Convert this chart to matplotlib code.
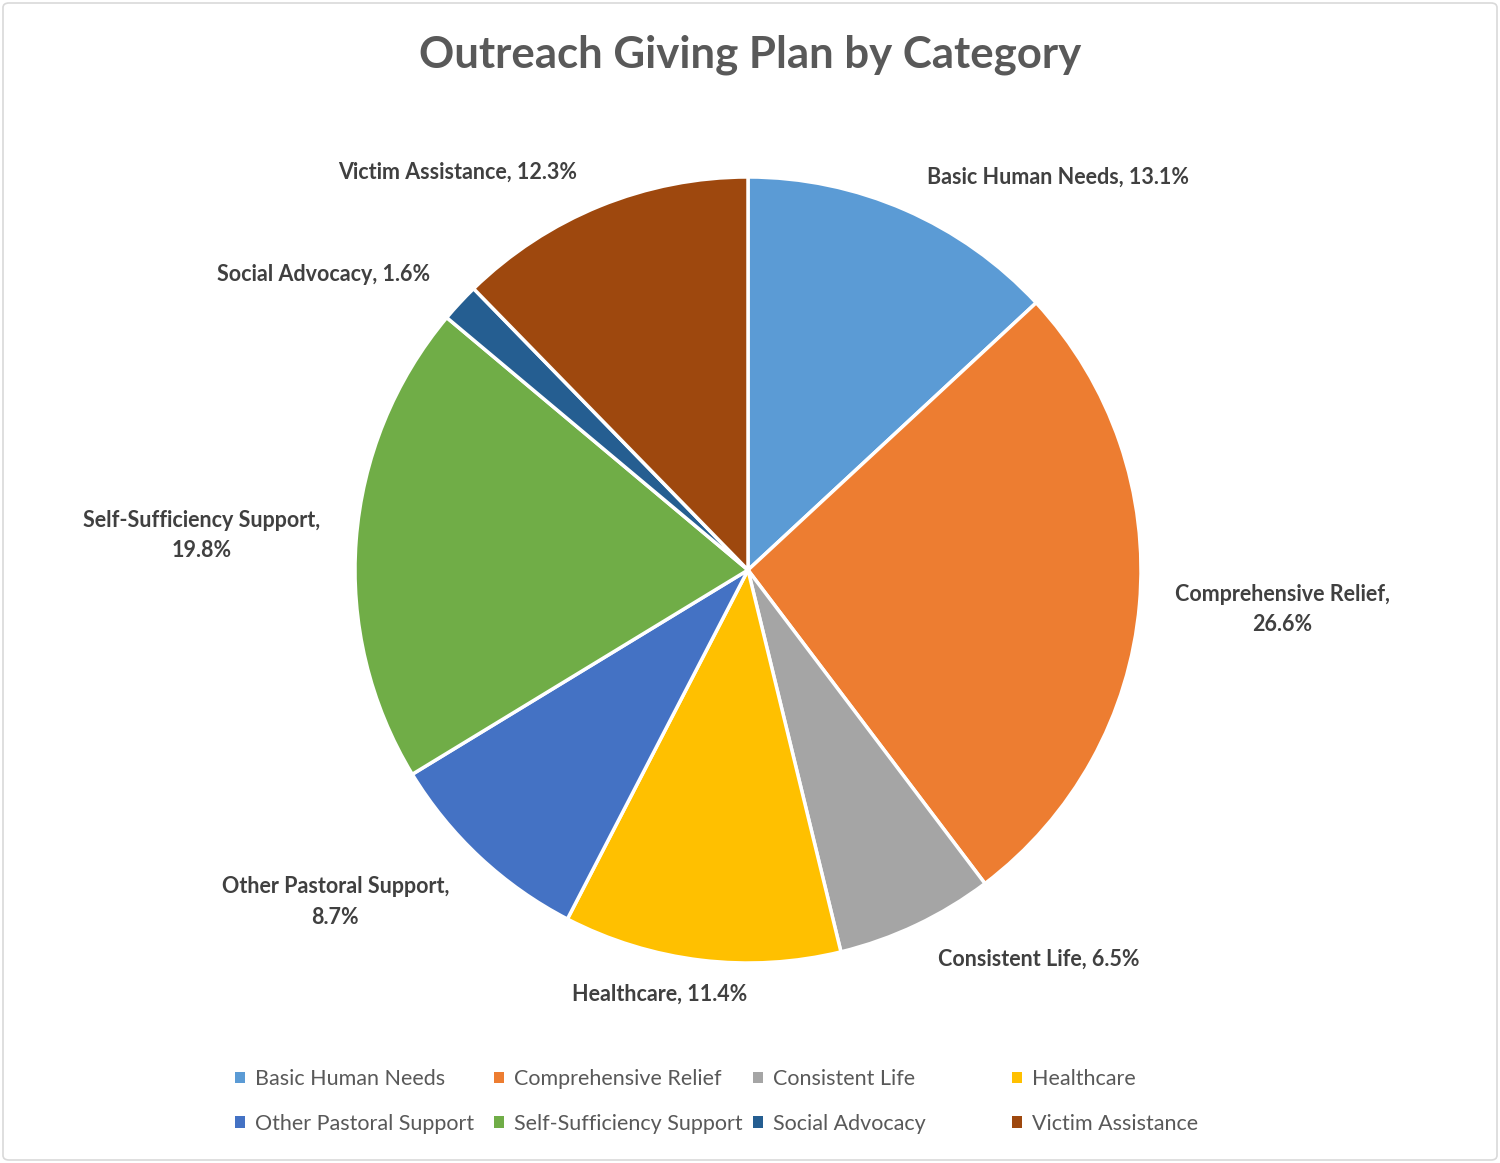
import matplotlib.pyplot as plt
from matplotlib.patches import FancyBboxPatch, Patch

plt.rcParams['font.family'] = ['Lato', 'DejaVu Sans']

# 数据
categories = ['Basic Human Needs', 'Comprehensive Relief', 'Consistent Life', 'Healthcare',
              'Other Pastoral Support', 'Self-Sufficiency Support', 'Social Advocacy', 'Victim Assistance']
shares = [13.1, 26.6, 6.5, 11.4, 8.7, 19.8, 1.6, 12.3]
colors = ['#5B9BD5', '#ED7D31', '#A5A5A5', '#FFC000', '#4472C4', '#70AD47', '#255E91', '#9E480E']

# 标签位置（以饼图半径为单位）
label_pos = [(0.79, 1.0), (1.36, -0.10), (0.74, -0.99), (-0.224, -1.08),
             (-1.05, -0.845), (-1.39, 0.087), (-1.08, 0.753), (-0.74, 1.013)]
label_text = ['Basic Human Needs, 13.1%', 'Comprehensive Relief,\n26.6%', 'Consistent Life, 6.5%',
              'Healthcare, 11.4%', 'Other Pastoral Support,\n8.7%', 'Self-Sufficiency Support,\n19.8%',
              'Social Advocacy, 1.6%', 'Victim Assistance, 12.3%']

W, H = 1500, 1163
R = 393
cx, cy = 748, 570
fig = plt.figure(figsize=(W / 100, H / 100), dpi=100)

# 外框
fig.patches.append(FancyBboxPatch((3 / W, 3 / H), 1 - 6 / W, 1 - 6 / H,
                                  boxstyle='round,pad=0,rounding_size=0.004',
                                  transform=fig.transFigure, facecolor='white',
                                  edgecolor='#D9D9D9', linewidth=1.2, zorder=-1))

xl, yl = 1.6, 1.25
ax = fig.add_axes([(cx - xl * R) / W, (H - cy - yl * R) / H, 2 * xl * R / W, 2 * yl * R / H])
ax.set_xlim(-xl, xl)
ax.set_ylim(-yl, yl)
ax.set_aspect('equal')
ax.axis('off')

ax.pie(shares, colors=colors, startangle=90, counterclock=False, radius=1,
       wedgeprops=dict(edgecolor='white', linewidth=2.5))

for (x, y), t in zip(label_pos, label_text):
    ax.text(x, y, t, ha='center', va='center', fontsize=15.5, fontweight='bold',
            color='#404040', linespacing=1.55)

fig.text(0.5, 1 - 55 / H, 'Outreach Giving Plan by Category', ha='center', va='center',
         fontsize=31.5, fontweight='bold', color='#595959')

# 图例：四列，等宽
col_x = [235, 494, 753, 1012]
for i in range(4):
    handles = [Patch(facecolor=colors[i]), Patch(facecolor=colors[i + 4])]
    leg = fig.legend(handles, [categories[i], categories[i + 4]], loc='upper left',
                     bbox_to_anchor=(col_x[i] / W, 1 - 1069 / H), frameon=False,
                     fontsize=15.5, handlelength=0.45, handleheight=0.45, handletextpad=0.5,
                     labelspacing=1.15, borderpad=0, borderaxespad=0)
    for txt in leg.get_texts():
        txt.set_color('#595959')

plt.savefig('out.png', dpi=100)
plt.close()
